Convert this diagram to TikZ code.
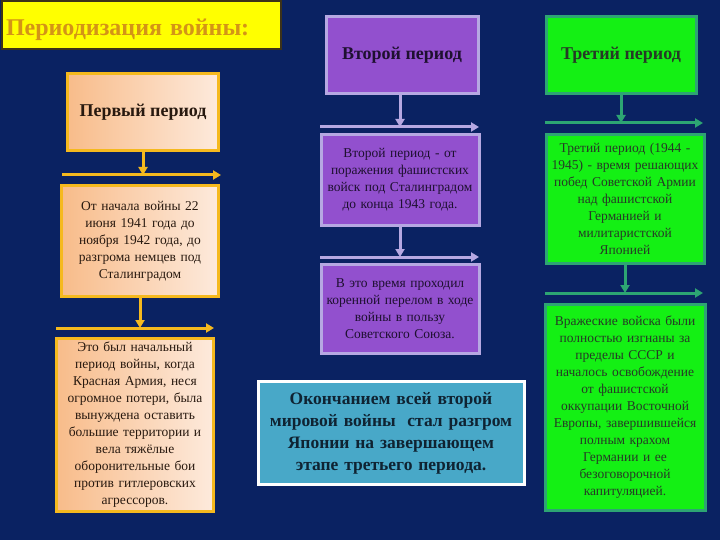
\documentclass[tikz,border=0pt]{standalone}
\usepackage{fontspec}
\setmainfont{Liberation Serif}
\usetikzlibrary{arrows.meta}
\definecolor{navybg}{RGB}{10,34,98}
\definecolor{titleyellow}{RGB}{255,255,0}
\definecolor{titlegold}{RGB}{212,148,22}
\definecolor{titleedge}{RGB}{60,50,25}
\definecolor{peachdark}{RGB}{248,188,138}
\definecolor{peachlight}{RGB}{253,234,220}
\definecolor{peachedge}{RGB}{245,185,30}
\definecolor{peachtext}{RGB}{40,25,15}
\definecolor{periodviolet}{RGB}{146,80,206}
\definecolor{violetedge}{RGB}{182,168,226}
\definecolor{violettext}{RGB}{30,16,48}
\definecolor{periodgreen}{RGB}{20,240,20}
\definecolor{greenedge}{RGB}{45,165,115}
\definecolor{greentext}{RGB}{38,58,38}
\definecolor{finalteal}{RGB}{72,168,200}
\definecolor{finaltext}{RGB}{15,35,50}

\begin{document}
\begin{tikzpicture}[x=1pt, y=-1pt,
    box/.style={line width=3pt, align=center, inner sep=2pt},
    headfont/.style={font=\fontsize{18}{21}\selectfont\bfseries},
    bodyfont/.style={font=\fontsize{13.5}{17}\selectfont},
    peachbox/.style={box, draw=peachedge, left color=peachdark, right color=peachlight, text=peachtext},
    violetbox/.style={box, draw=violetedge, fill=periodviolet, text=violettext},
    greenbox/.style={box, draw=greenedge, fill=periodgreen, text=greentext},
    finalbox/.style={box, draw=white, fill=finalteal, text=finaltext, font=\fontsize{17.5}{22}\selectfont\bfseries},
    titlebox/.style={draw=titleedge, line width=2pt, fill=titleyellow, text=titlegold, align=left, font=\fontsize{24}{27}\selectfont\bfseries},
    arrow/.style={-{Triangle[length=8pt,width=9pt]}, line width=3pt}
  ]
    \useasboundingbox (0,0) rectangle (720,540);
    \fill[navybg] (0,0) rectangle (720,540);

    \node[titlebox, minimum width=279, minimum height=48, text width=270] (title) at (141,25) {\raisebox{-11pt}[0pt][0pt]{Периодизация войны:}};

    \node[peachbox, headfont, minimum width=151, minimum height=77] (p1) at (143,112) {Первый период};
    \node[peachbox, bodyfont, minimum width=157, minimum height=111, text width=152] (p1a) at (140,241) {От начала войны 22\\ июня 1941 года до\\ ноября 1942 года, до\\ разгрома немцев под\\ Сталинградом};
    \node[peachbox, bodyfont, minimum width=157, minimum height=173, text width=152] (p1b) at (135,425) {Это был начальный\\ период войны, когда\\ Красная Армия, неся\\ огромное потери, была\\ вынуждена оставить\\ большие территории и\\ вела тяжёлые\\ оборонительные бои\\ против гитлеровских\\ агрессоров.};

    \node[violetbox, headfont, minimum width=152, minimum height=77] (p2) at (402,55) {Второй период};
    \node[violetbox, bodyfont, minimum width=157, minimum height=91, text width=154] (p2a) at (400,180) {Второй период - от\\ поражения фашистских\\ войск под Сталинградом\\ до конца 1943 года.};
    \node[violetbox, bodyfont, minimum width=157, minimum height=89, text width=154] (p2b) at (400,309) {В это время проходил\\ коренной перелом в ходе\\ войны в пользу\\ Советского Союза.};
    \node[finalbox, minimum width=266, minimum height=103, text width=262] (final) at (391,433) {Окончанием всей второй\\ мировой войны\ \ стал разгром\\ Японии на завершающем\\ этапе третьего периода.};

    \node[greenbox, headfont, minimum width=150, minimum height=77] (p3) at (621,55) {Третий период};
    \node[greenbox, bodyfont, minimum width=156, minimum height=129, text width=154] (p3a) at (625,199) {Третий период (1944 -\\ 1945) - время решающих\\ побед Советской Армии\\ над фашистской\\ Германией и\\ милитаристской\\ Японией};
    \node[greenbox, bodyfont, minimum width=158, minimum height=206, text width=156] (p3b) at (625,407) {Вражеские войска были\\ полностью изгнаны за\\ пределы СССР и\\ началось освобождение\\ от фашистской\\ оккупации Восточной\\ Европы, завершившейся\\ полным крахом\\ Германии и ее\\ безоговорочной\\ капитуляцией.};

    \coordinate (barAl) at (62,175);  \coordinate (barAr) at (221,175);
    \coordinate (barBl) at (56,328);  \coordinate (barBr) at (214,328);
    \coordinate (barCl) at (320,127); \coordinate (barCr) at (479,127);
    \coordinate (barDl) at (320,257); \coordinate (barDr) at (479,257);
    \coordinate (barEl) at (545,123); \coordinate (barEr) at (703,123);
    \coordinate (barFl) at (545,293); \coordinate (barFr) at (703,293);

    \draw[arrow, peachedge] (barAl) -- (barAr);
    \draw[arrow, peachedge] (p1.south) -- (p1.south |- barAl);
    \draw[arrow, peachedge] (barBl) -- (barBr);
    \draw[arrow, peachedge] (p1a.south) -- (p1a.south |- barBl);
    \draw[arrow, violetedge] (barCl) -- (barCr);
    \draw[arrow, violetedge] (p2.south -| p2a.center) -- (p2a.center |- barCl);
    \draw[arrow, violetedge] (barDl) -- (barDr);
    \draw[arrow, violetedge] (p2a.south) -- (p2a.south |- barDl);
    \draw[arrow, greenedge] (barEl) -- (barEr);
    \draw[arrow, greenedge] (p3.south) -- (p3.south |- barEl);
    \draw[arrow, greenedge] (barFl) -- (barFr);
    \draw[arrow, greenedge] (p3a.south) -- (p3a.south |- barFl);
  \end{tikzpicture}
\end{document}
